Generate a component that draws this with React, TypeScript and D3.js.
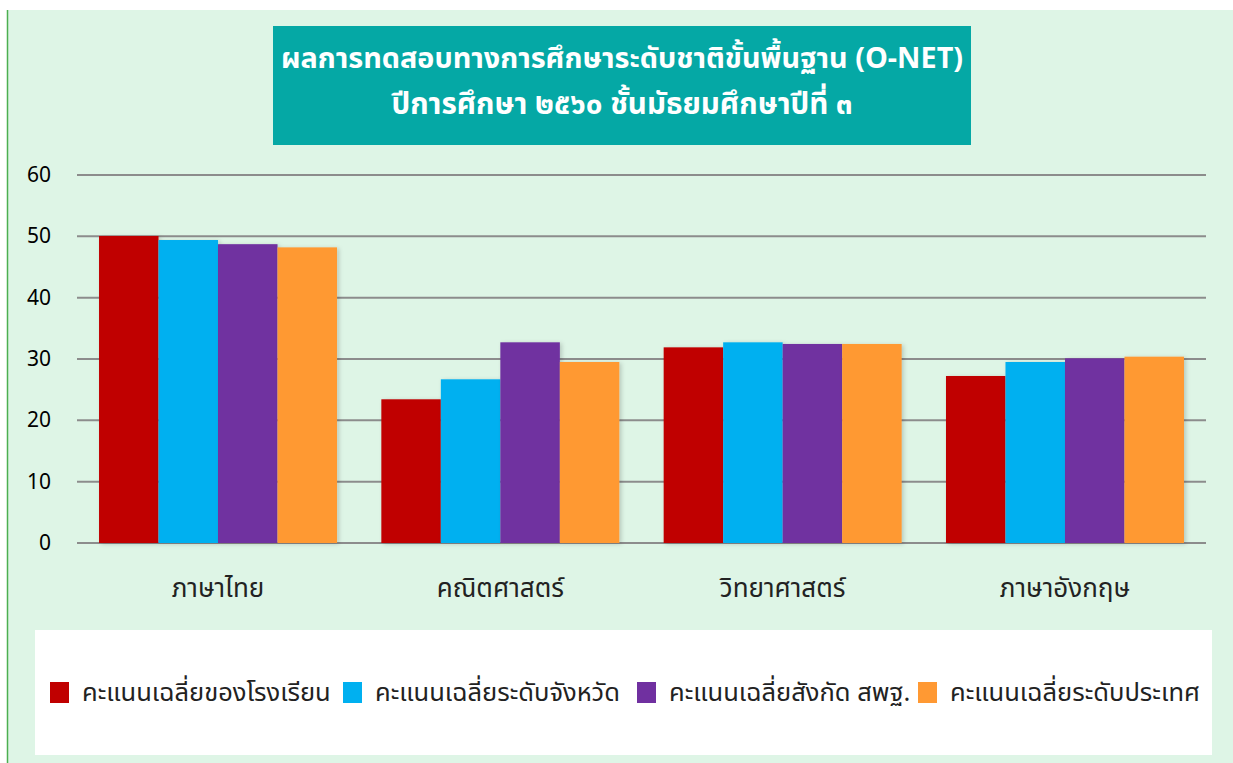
import React from "react";
import * as d3 from "d3";

const categories = ["ภาษาไทย", "คณิตศาสตร์", "วิทยาศาสตร์", "ภาษาอังกฤษ"];
const seriesNames = [
  "คะแนนเฉลี่ยของโรงเรียน",
  "คะแนนเฉลี่ยระดับจังหวัด",
  "คะแนนเฉลี่ยสังกัด สพฐ.",
  "คะแนนเฉลี่ยระดับประเทศ",
];
const seriesColors = ["#C00000", "#00B0F0", "#7030A0", "#FF9933"];
const school = [50.06, 23.43, 31.9, 27.23];
const province = [49.4, 26.69, 32.72, 29.51];
const obec = [48.72, 32.72, 32.45, 30.11];
const nation = [48.2, 29.51, 32.45, 30.38];
const seriesValues = [school, province, obec, nation];
const yTicks = [0, 10, 20, 30, 40, 50, 60];
const titleLines = [
  "ผลการทดสอบทางการศึกษาระดับชาติขั้นพื้นฐาน (O-NET)",
  "ปีการศึกษา ๒๕๖๐ ชั้นมัธยมศึกษาปีที่ ๓",
];
const legendX = [50, 343, 637, 918];

const FONT = "Tahoma, 'Noto Sans Thai', 'Leelawadee UI', 'Noto Sans', sans-serif";

export default function App() {
  const W = 1233, H = 763;
  const x0 = 77, x1 = 1206;
  const y = d3.scaleLinear().domain([0, 60]).range([543, 175]);
  const xBand = d3.scaleBand().domain(categories).range([x0, x1]).paddingInner(0.157).paddingOuter(0.078);
  const xInner = d3.scaleBand().domain(seriesNames).range([0, xBand.bandwidth()]);

  return (
    <svg width={W} height={H} style={{ position: "absolute", left: 0, top: 0 }}>
      <defs>
        <filter id="sh" x="-10%" y="-10%" width="130%" height="120%">
          <feDropShadow dx="2" dy="1" stdDeviation="2" floodColor="#000" floodOpacity="0.18" />
        </filter>
      </defs>
      <rect x={0} y={0} width={W} height={H} fill="#ffffff" />
      <rect x={7} y={10} width={W - 7} height={H - 10} fill="#DEF5E6" />
      <line x1={7.5} x2={7.5} y1={10} y2={H} stroke="#4CAF50" strokeWidth={1.5} />

      <rect x={273} y={26} width={698} height={119} fill="#05A8A5" />
      {titleLines.map((t, i) => (
        <text key={i} x={622} y={68 + i * 46} textAnchor="middle" fill="#fff" fontFamily={FONT}
          fontSize={i === 0 ? 28.8 : 29.5} fontWeight="bold">{t}</text>
      ))}

      {yTicks.map((t) => (
        <g key={t}>
          <line x1={x0} x2={x1} y1={y(t)} y2={y(t)} stroke="#8C8C8C" strokeWidth={2} />
          <text x={51} y={y(t) + 7} textAnchor="end" fontFamily={FONT} fontSize={21} fill="#000">{t}</text>
        </g>
      ))}

      {categories.map((c, ci) => (
        <g key={c} transform={`translate(${xBand(c)},0)`}>
          {seriesNames.map((s, si) => (
            <rect key={s} x={xInner(s)} y={y(seriesValues[si][ci])} width={xInner.bandwidth()}
              height={y(0) - y(seriesValues[si][ci])} fill={seriesColors[si]} filter="url(#sh)" />
          ))}
          <text x={xBand.bandwidth() / 2} y={597} textAnchor="middle" fontFamily={FONT} fontSize={26} fill="#222">{c}</text>
        </g>
      ))}

      <rect x={35} y={630} width={1177} height={125} fill="#ffffff" />
      {seriesNames.map((s, si) => (
        <g key={s}>
          <rect x={legendX[si]} y={682} width={19} height={21} fill={seriesColors[si]} />
          <text x={legendX[si] + 32} y={701} fontFamily={FONT} fontSize={25.5} fill="#222">{s}</text>
        </g>
      ))}
    </svg>
  );
}
